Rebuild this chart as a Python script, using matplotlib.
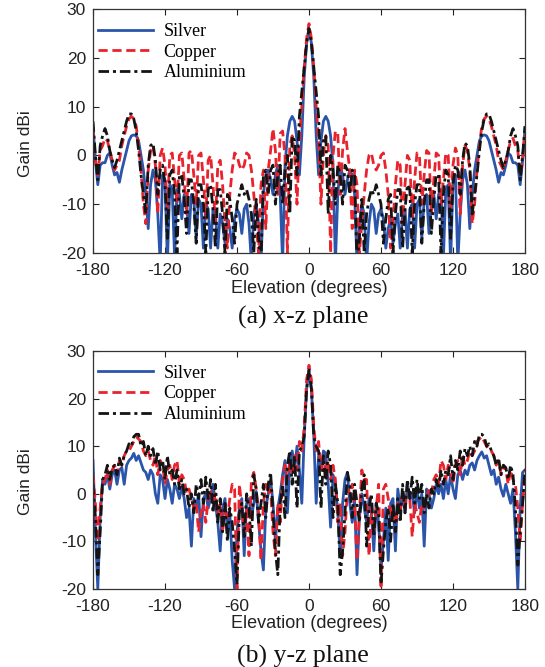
import numpy as np
import matplotlib
matplotlib.use("Agg")
import matplotlib.pyplot as plt

plt.rcParams['font.family'] = ['Liberation Sans', 'DejaVu Sans']
plt.rcParams['axes.unicode_minus'] = False

# elevation grid, degrees
elevation = list(range(-180, 181, 2))

# (a) x-z plane, gain in dBi
silver_xz = [6, -1, -6, -2, -1.5, -1.5, 0, 0.5, -2, -4,
             -3.5, -5.5, -3, -1, 1, 3, 4, 4.2, 4, 3,
             0, -3, -8, -15, -6, -3, -5, -12, -22, -4,
             -5, -22, -6, -7, -21, -7, -8, -13, -8, -10,
             -16, -8, -9, -17, -9, -10, -19, -10, -11, -19,
             -11, -12, -19, -12, -14, -18, -13, -15, -19, -13,
             -11, -12, -16, -11, -10, -14, -22, -12, -10, -14,
             -22, -8, -4, -3, -5, -8, -4, -2, -8, -22,
             -2, 4, 7, 8, 7, 3, -4, 4, 16, 23,
             26,
             23, 16, 4, -4, 3, 7, 8, 7, 4, -2,
             -22, -8, -2, -4, -8, -5, -3, -4, -8, -22,
             -14, -10, -12, -22, -14, -10, -11, -16, -12, -11,
             -13, -19, -15, -13, -18, -14, -12, -19, -12, -11,
             -19, -11, -10, -19, -10, -9, -17, -9, -8, -16,
             -10, -8, -13, -8, -7, -21, -7, -6, -22, -5,
             -4, -22, -12, -5, -3, -6, -15, -8, -3, 0,
             3, 4, 4.2, 4, 3, 1, -1, -3, -5.5, -3.5,
             -4, -2, 0.5, 0, -1.5, -1.5, -2, -6, -1, 5.5]

copper_xz = [5, -1, -4, 1, 2, 3.5, 3, 1, -1, -3,
             -2, -1, 2, 4, 6, 7.5, 8, 7.5, 6, 2,
             -3, -10, -14, -3, 1, 2, -2, -12, 0, 1.5,
             -2, -11, 0, 0.5, -5, -10, 0, 0.5, -5, -12,
             0.5, 1, -4, -10, 0, 0.5, -5, -13, -1, 0,
             -6, -14, -2, -1, -6, -14, -19, -8, -3, 0.5,
             0, -2, -3, -2, 0.5, 0, -3, -8, -14, -20,
             -6, -3, -15, -3, 1, 5.5, 1, -8, 4.5, 5,
             0, -20, 2, 4, 0, -10, 3, 10, 18, 24,
             27,
             24, 18, 10, 3, -10, 0, 4, 2, -20, 0,
             5, 4.5, -8, 1, 5.5, 1, -3, -15, -3, -6,
             -20, -14, -8, -3, 0, 0.5, -2, -3, -2, 0,
             0.5, -3, -8, -19, -14, -6, -1, -2, -14, -6,
             0, -1, -13, -5, 0.5, 0, -10, -4, 1, 0.5,
             -12, -5, 0.5, 0, -10, -5, 0.5, 0, -11, -2,
             1.5, 0, -12, -2, 2, 1, -3, -14, -10, -3,
             2, 6, 7.5, 8, 7.5, 6, 4, 2, -1, -2,
             -3, -1, 1, 3, 3.5, 2, 1, -4, -1, 5]

aluminium_xz = [7, 0, -5, 2, 4, 5.5, 4, 1, -1, -2.5,
                -1, 1, 3, 5, 7, 8.5, 8.5, 7.5, 5, 1,
                -4, -8, -12, -2, 2, 2.5, -1, -8, -3, -2,
                -6, -17, -4, -3, -8, -20, -4, -4, -9, -16,
                -5, -5, -10, -18, -6, -6, -10, -20, -7, -6,
                -11, -19, -7, -7, -12, -20, -8, -9, -13, -18,
                -10, -8, -6, -8, -7, -9, -12, -20, -9, -17,
                -22, -4, -3, -8, -3, -2, -10, -4, -2, -10,
                -3, 0, -12, 4, 3, -4, 8, 13, 18, 23,
                26,
                23, 18, 13, 8, -4, 3, 4, -12, 0, -3,
                -10, -2, -4, -10, -2, -3, -8, -3, -4, -22,
                -17, -9, -20, -12, -9, -7, -8, -6, -8, -10,
                -18, -13, -9, -8, -20, -12, -7, -7, -19, -11,
                -6, -7, -20, -10, -6, -6, -18, -10, -5, -5,
                -16, -9, -4, -4, -20, -8, -3, -4, -17, -6,
                -2, -3, -8, -1, 2.5, 2, -2, -12, -8, -4,
                1, 5, 7.5, 8.5, 8.5, 7, 5, 3, 1, -1,
                -2.5, -1, 1, 4, 5.5, 4, 2, -5, 0, 6]

# (b) y-z plane, gain in dBi
silver_yz = [7, -8, -20, -5, 3, 2, 4, 1, 4, 5,
             2, 5, 5.5, 2, 6, 7, 7.5, 8.5, 7, 8,
             6.5, 5, 4.5, 3, 5, 4, 0, -2, 4, 3,
             -1, 3, 1, -2, 2, 1, -1, 1.5, -1, -5,
             -3, -11, -1, -3, 0, -9, -1, 0, -3, -1,
             2, -2, -6, -12, -3, -1, -8, -4, -14, -20,
             -8, -3, -1, -13, -2, -1, -5, -2, 0.5, -6,
             -12, -16, -3, 0, 3, -2, -10, -3, 0, 4,
             7, -4, 6, 9, 5, 10, 5, -2, 12, 22,
             26,
             22, 12, -2, 8, 5, 9, 8.5, 2, -7, 4,
             2, -4, -13, -2, 3, 4.5, -2, -6, -1, -17,
             -5, 0, -3, -6, -1, -4, -12, -2, -6, -16,
             -10, -3, -14, -2, -1, -12, 1, -3, 0, -4,
             2, -1, 0, -4, 1, -3, 0, -11, 1, 0,
             -3, -1, 2, 0, 2, -1, 3, 0, 4, 1,
             -1, 4, 5, 3, 5, 4, 6, 6.5, 5, 7,
             8, 8.8, 7.5, 8, 6, 4, 5, 2, 3.5, 1,
             -0.5, 2, 0, -2, 1, -8, -20, -3, 4.5, 5]

copper_yz = [4, -2, -10, -3, 2, 3, 5, 2, 5, 6,
             4, 7, 6, 8, 9, 9, 10, 11, 12, 11.5,
             11, 9, 8, 9, 7, 6, 8, 4, 7, 6,
             2, 5, 6, 3, 6, 7, 2, 4, 3, 0,
             1, -1, -3, -2, -8, -4, -2, -6, -1, 1,
             -2, 0, -4, -2, -8, -3, -5, -1, 2, 1,
             -20, 2, -3, -8, -3, -13, 3, 4.5, 1, -4,
             -14, -2, 2, 0, 1, -8, -13, -2, -6, 3,
             6, 3, 7, 4, 8, 5, 11, 9, 14, 24,
             27,
             24, 14, 9, 11, 5, 8, 4, 7, 3, 6,
             3, -6, -2, -13, -8, 1, 0, 2, -2, -14,
             -4, 5, 3, 3, -13, -3, -8, -3, 2, -20,
             1, 2, -1, -5, -3, -8, -2, -4, 0, -2,
             1, -1, -9, -2, -4, -6, -2, -3, -1, 1,
             0, 3, 4, 2, 7, 6, 3, 6, 5, 2,
             6, 7, 4, 8, 6, 7, 9, 8, 9, 11,
             11.5, 12, 11, 10, 9, 9, 8, 6, 7, 4,
             6, 5, 2, 5, 3, 2, -3, -10, -2, 5]

aluminium_yz = [2, -5, -17, -8, 3, 4, 6, 3, 5.5, 6,
                4, 7.5, 6, 8, 9, 10.5, 10, 12, 12.5, 12.5,
                10, 11, 8, 10, 8, 9.5, 6, 9, 5, 7,
                3, 8, 4, 5, 2, 5, 1, 3, 0, 1,
                -3, 0, -4, 2, -1, 3, -2, 3.5, -1, 3,
                -4, 2, -6, -1, -8, -2, -10, -3, -6, -12,
                -19, -4, -2, -9, 0, -3, -11, 4, 1, -6,
                -2, 2, -5, 2, 4.5, -4, -12, -17, -2, 2,
                -5, 6, 9, 2, 8, -3, 9, 10, 12, 22,
                26,
                22, 12, 10, 9, -3, 8, 2, 9, 6, -5,
                2, -2, -17, -12, -4, 4.5, 2, -5, 2, -2,
                -6, 1, 4, -11, -3, 0, -9, -2, -4, -19,
                -12, -6, -3, -10, -2, -8, -1, -6, 2, -4,
                3, -1, 3.5, -2, 3, -1, 2, -4, 0, -3,
                1, 0, 3, 1, 5, 2, 5, 4, 8, 3,
                7, 5, 9, 6, 9.5, 8, 10, 8, 11, 10,
                12.5, 12.5, 12, 10, 10.5, 9, 8, 6, 7.5, 4,
                6, 5.5, 3, 6, 4, -3, -15, -8, -2, 5]

x_ticks = [-180, -120, -60, 0, 60, 120, 180]
y_ticks = [-20, -10, 0, 10, 20, 30]

fig = plt.figure(figsize=(5.45, 6.67), dpi=100)
ax_a = fig.add_axes([93/545, 1-253/667, 432/545, 244/667])
ax_b = fig.add_axes([93/545, 1-589/667, 432/545, 238/667])

panels = [(ax_a, silver_xz, copper_xz, aluminium_xz, '(a) x-z plane', 317),
          (ax_b, silver_yz, copper_yz, aluminium_yz, '(b) y-z plane', 656)]

for ax, s, c, a, cap, cap_y in panels:
    ax.plot(elevation, s, color='#2a55ab', lw=2.0, label='Silver')
    ax.plot(elevation, c, color='#e8232d', lw=2.0, dashes=(3.3, 1.7), label='Copper')
    ax.plot(elevation, a, color='#141414', lw=2.0, dashes=(3.8, 1.4, 1.1, 1.4), label='Aluminium')
    ax.set_xlim(-180, 180)
    ax.set_ylim(-20, 30)
    ax.set_xticks(x_ticks)
    ax.set_yticks(y_ticks)
    ax.tick_params(direction='in', top=True, right=True, length=4, width=0.8,
                   labelsize=12.5, colors='#222222')
    ax.tick_params(axis='x', pad=7)
    ax.tick_params(axis='y', pad=5)
    for sp in ax.spines.values():
        sp.set_color('#333333')
        sp.set_linewidth(0.9)
    ax.set_xlabel('Elevation (degrees)', fontsize=13, color='#222222')
    ax.xaxis.set_label_coords(0.5, -0.11)
    ax.set_ylabel('Gain dBi', fontsize=12.5, color='#222222')
    ax.yaxis.set_label_coords(-0.14, 0.45)
    ax.legend(loc='upper left', bbox_to_anchor=(0.0, 0.965), frameon=False,
              prop={'family': 'Liberation Serif', 'size': 13},
              handlelength=3.0, handletextpad=0.6, labelspacing=0.2,
              borderpad=0.3, borderaxespad=0)
    fig.text(303/545, 1-cap_y/667, cap, ha='center', va='center',
             fontsize=18.5, family='Liberation Serif', color='#111111')

fig.savefig('out.png', dpi=100)
